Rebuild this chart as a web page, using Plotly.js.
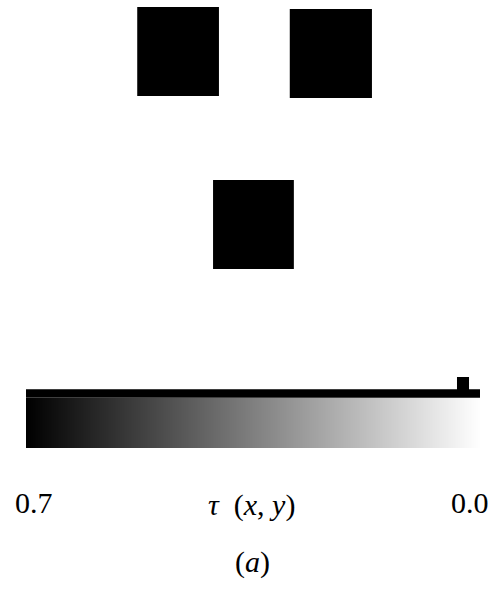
<!DOCTYPE html>
<html>
<head>
<meta charset="utf-8">
<script src="https://cdn.plot.ly/plotly-3.0.1.min.js"></script>
<style>
  html, body { margin: 0; padding: 0; background: #fff; }
  #chart { width: 497px; height: 592px; }
</style>
</head>
<body>
<div id="chart"></div>
<script>
// Obstacles in the unit field: bounds and the tau value inside each one
const blockX0 = [0.245, 0.581, 0.412];
const blockX1 = [0.425, 0.762, 0.590];
const blockY0 = [0.680, 0.673, 0.103];
const blockY1 = [0.977, 0.970, 0.400];
const blockTau = [0.7, 0.7, 0.7];

// Colour scale range, drawn high to low
const tauMax = 0.7;
const tauMin = 0.0;
const scaleTicks = ['0.7', '0.0'];

// Distribution of tau drawn as a step line above the scale
const histTau = [0.7, 0.029, 0.029, 0.0234, 0.0234, 0.0];
const histLevel = [1.09, 1.09, 1.336, 1.336, 1.09, 1.09];

const grey = [[0, '#ffffff'], [1, '#000000']];

function greyAt(v) {
  const g = Math.round(255 * (1 - (v - tauMin) / (tauMax - tauMin)));
  return 'rgb(' + g + ',' + g + ',' + g + ')';
}

const shapes = blockX0.map((x0, i) => ({
  type: 'rect', xref: 'x', yref: 'y',
  x0: x0, x1: blockX1[i], y0: blockY0[i], y1: blockY1[i],
  fillcolor: greyAt(blockTau[i]),
  line: { width: 0 }
}));

const gradient = {
  type: 'heatmap',
  xaxis: 'x2', yaxis: 'y2',
  x: [tauMax, tauMin],
  y: [0, 0.5, 1],
  z: [[tauMax, tauMin], [tauMax, tauMin]],
  zmin: tauMin, zmax: tauMax,
  zsmooth: 'best',
  colorscale: grey,
  showscale: false,
  hoverinfo: 'skip'
};

const hist = {
  type: 'scatter', mode: 'lines',
  xaxis: 'x2', yaxis: 'y2',
  x: histTau, y: histLevel,
  line: { color: '#000', width: 8.4 },
  hoverinfo: 'skip'
};

const font = { family: 'Liberation Serif, DejaVu Serif, serif', size: 30, color: '#000' };
const hidden = { visible: false, showgrid: false, zeroline: false, fixedrange: true };
const dx0 = 26 / 497, dx1 = 480 / 497;

const layout = {
  width: 497, height: 592,
  margin: { l: 0, r: 0, t: 0, b: 0 },
  paper_bgcolor: '#fff', plot_bgcolor: 'rgba(0,0,0,0)',
  showlegend: false,
  xaxis: Object.assign({ domain: [dx0, dx1], range: [0, 1] }, hidden),
  yaxis: Object.assign({ domain: [292 / 592, 1], range: [0, 1] }, hidden),
  xaxis2: Object.assign({ domain: [dx0, dx1], range: [tauMax, tauMin], anchor: 'y2' }, hidden),
  yaxis2: Object.assign({ domain: [144 / 592, 215 / 592], range: [0, 1.42], anchor: 'x2' }, hidden),
  shapes: shapes,
  annotations: [
    { xref: 'x2', yref: 'paper', x: tauMax, y: 0.152, xanchor: 'left', yanchor: 'middle',
      xshift: -13, text: scaleTicks[0], showarrow: false, font: font },
    { xref: 'x2', yref: 'paper', x: tauMin, y: 0.152, xanchor: 'right', yanchor: 'middle',
      xshift: 11, text: scaleTicks[1], showarrow: false, font: font },
    { xref: 'paper', yref: 'paper', x: 251 / 497, y: 0.147, xanchor: 'center', yanchor: 'middle',
      text: '<i>τ</i>  (<i>x</i>, <i>y</i>)', showarrow: false, font: font },
    { xref: 'paper', yref: 'paper', x: 252.5 / 497, y: 0.050, xanchor: 'center', yanchor: 'middle',
      text: '(<i>a</i>)', showarrow: false, font: font }
  ]
};

Plotly.newPlot('chart', [gradient, hist], layout, { staticPlot: true, displayModeBar: false });
</script>
</body>
</html>
